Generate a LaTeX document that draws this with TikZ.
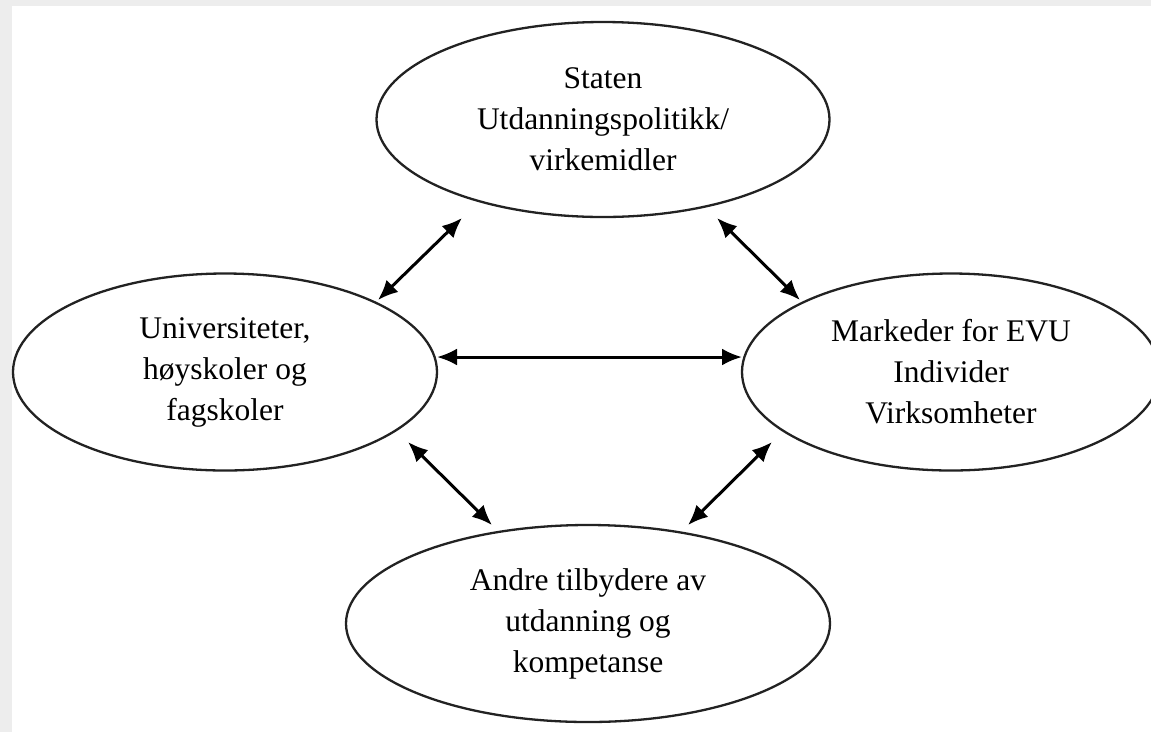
\documentclass[tikz,border=0pt]{standalone}
\usepackage{fontspec}
\setmainfont{Liberation Serif}
\usetikzlibrary{shapes.geometric,arrows.meta}
\definecolor{edge}{HTML}{222222}
\definecolor{frame}{HTML}{EDEDED}
\tikzset{
  oval/.style={ellipse, draw=edge, line width=2.3pt, inner sep=0pt, align=center,
    font=\fontsize{31.5}{41}\selectfont, text=black},
  link/.style={line width=3pt, draw=black,
    {Latex[length=20pt,width=17pt]}-{Latex[length=20pt,width=17pt]}}
}
\begin{document}
\begin{tikzpicture}[x=1pt,y=-1pt]
\useasboundingbox (0,0) rectangle (1151,732);
\fill[frame] (0,0) rectangle (1151,732);
\fill[white] (12,6) rectangle (1151,732);

\node[oval, minimum width=453pt, minimum height=195pt] (top) at (603,119.5)
  {Staten\\Utdanningspolitikk/\\virkemidler};
\node[oval, minimum width=424pt, minimum height=197pt] (left) at (225,372)
  {Universiteter,\\høyskoler og\\fagskoler};
\node[oval, minimum width=418pt, minimum height=197pt] (right) at (951,372)
  {Markeder for EVU\\Individer\\Virksomheter};
\node[oval, minimum width=484pt, minimum height=197pt] (bottom) at (588,623.5)
  {Andre tilbydere av\\utdanning og\\kompetanse};

\coordinate (tl1) at (462,218);
\coordinate (tl2) at (378,300);
\coordinate (tr1) at (717,218);
\coordinate (tr2) at (800,300);
\coordinate (h1) at (437,357);
\coordinate (h2) at (742,357);
\coordinate (bl1) at (408,442);
\coordinate (bl2) at (492,525);
\coordinate (br1) at (772,442);
\coordinate (br2) at (688,525);

\draw[link] (tl1) -- (tl2);
\draw[link] (tr1) -- (tr2);
\draw[link] (h1) -- (h2);
\draw[link] (bl1) -- (bl2);
\draw[link] (br1) -- (br2);
\end{tikzpicture}
\end{document}
